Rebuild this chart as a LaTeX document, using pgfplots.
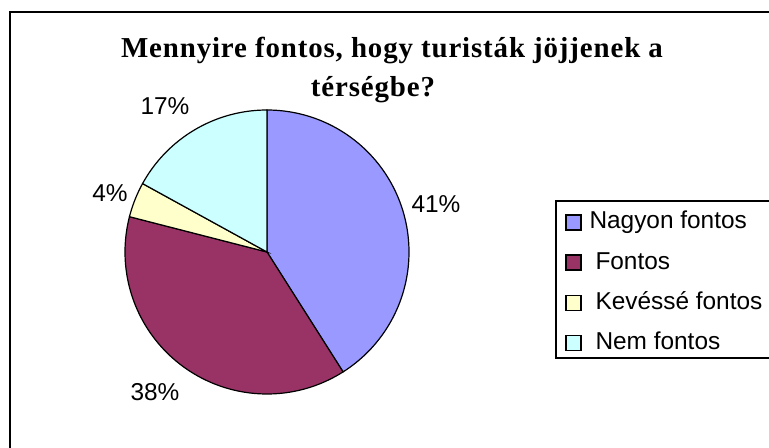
\documentclass[border=0pt]{standalone}
\usepackage{fontspec}
\setmainfont{Liberation Sans}
\newfontfamily\titlefont[LetterSpace=3]{Liberation Serif}
\usepackage{pgfplots}
\pgfplotsset{compat=1.18}
\definecolor{cA}{HTML}{9999FF}
\definecolor{cB}{HTML}{993366}
\definecolor{cC}{HTML}{FFFFCC}
\definecolor{cD}{HTML}{CCFFFF}
% data (percent)
\def\vA{41}
\def\vB{38}
\def\vC{4}
\def\vD{17}
\pgfmathsetmacro\aA{90}
\pgfmathsetmacro\aB{\aA-3.6*\vA}
\pgfmathsetmacro\aC{\aB-3.6*\vB}
\pgfmathsetmacro\aD{\aC-3.6*\vC}
\pgfmathsetmacro\aE{\aD-3.6*\vD}
\def\cx{267}
\def\cy{196}
\def\rr{142}
\begin{document}
\begin{tikzpicture}
\begin{axis}[name=ax, at={(0,0)}, anchor=south west, scale only axis,
  width=769bp, height=448bp, xmin=0, xmax=769, ymin=0, ymax=448,
  hide axis, clip=false,
  legend cell align=left,
  legend style={draw=none, fill=none, at={(axis cs:565,237.3)}, anchor=north west,
    inner sep=0pt, row sep=17.2bp, column sep=8bp,
    font=\fontsize{24.5}{28}\selectfont,
    nodes={inner sep=0pt, text height=18bp, text depth=5bp}},
  legend image code/.code={\draw[#1, line width=1.3bp] (0bp,-7.5bp) rectangle (15bp,7.5bp);},
]
\addplot[fill=cA, draw=black, line width=1.2bp, domain=\aB:\aA, samples=90, variable=\t]
  ({\cx+\rr*cos(\t)},{\cy+\rr*sin(\t)}) -- (axis cs:\cx,\cy) -- cycle;
\addlegendentry{Nagyon fontos}
\addplot[fill=cB, draw=black, line width=1.2bp, domain=\aC:\aB, samples=90, variable=\t]
  ({\cx+\rr*cos(\t)},{\cy+\rr*sin(\t)}) -- (axis cs:\cx,\cy) -- cycle;
\addlegendentry{\hspace*{6bp}Fontos}
\addplot[fill=cC, draw=black, line width=1.2bp, domain=\aD:\aC, samples=20, variable=\t]
  ({\cx+\rr*cos(\t)},{\cy+\rr*sin(\t)}) -- (axis cs:\cx,\cy) -- cycle;
\addlegendentry{\hspace*{6bp}Kevéssé fontos}
\addplot[fill=cD, draw=black, line width=1.2bp, domain=\aE:\aD, samples=50, variable=\t]
  ({\cx+\rr*cos(\t)},{\cy+\rr*sin(\t)}) -- (axis cs:\cx,\cy) -- cycle;
\addlegendentry{\hspace*{6bp}Nem fontos}
% frames
\draw[line width=2bp] (axis cs:10,-5) -- (axis cs:10,436) -- (axis cs:790,436);
\draw[line width=1.5bp] (axis cs:800,247) -- (axis cs:556,247) -- (axis cs:556,90) -- (axis cs:800,90);
% labels
\node[font=\fontsize{24.5}{28}\selectfont] at (axis cs:436,244) {41\%};
\node[font=\fontsize{24.5}{28}\selectfont] at (axis cs:155,56) {38\%};
\node[font=\fontsize{24.5}{28}\selectfont] at (axis cs:110,255) {4\%};
\node[font=\fontsize{24.5}{28}\selectfont] at (axis cs:165,342) {17\%};
% title
\node[font=\titlefont\bfseries\fontsize{29}{39}\selectfont, anchor=base] at (axis cs:392,390) {Mennyire fontos, hogy turisták jöjjenek a};
\node[font=\titlefont\bfseries\fontsize{29}{39}\selectfont, anchor=base] at (axis cs:373,351) {térségbe?};
\end{axis}
\pgfresetboundingbox
\useasboundingbox (ax.south west) rectangle (ax.north east);
\end{tikzpicture}
\end{document}
